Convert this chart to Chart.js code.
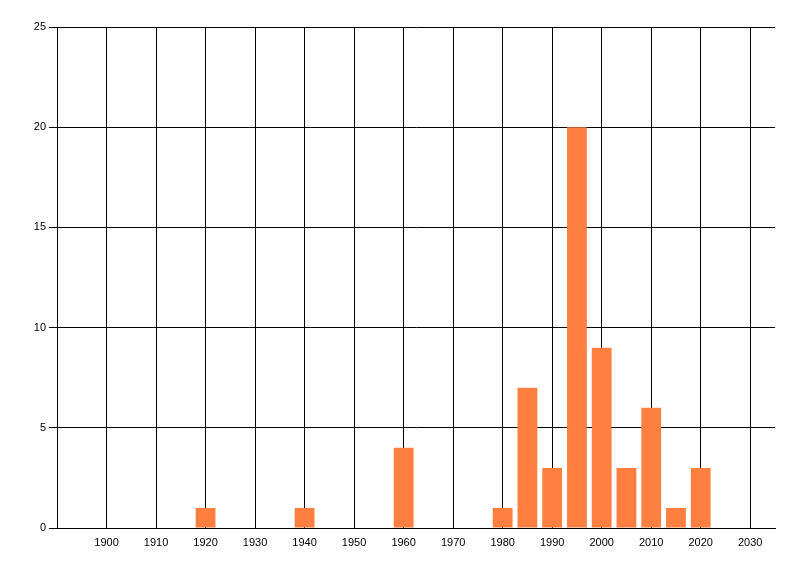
<!DOCTYPE html>
<html>
<head>
<meta charset="utf-8">
<script src="https://cdn.jsdelivr.net/npm/chart.js@4/dist/chart.umd.min.js"></script>
<style>
html,body{margin:0;padding:0;background:#fff;}
#wrap{width:800px;height:576px;}
</style>
</head>
<body>
<div id="wrap"><canvas id="c" width="800" height="576"></canvas></div>
<script>
const years = [1920, 1940, 1960, 1980, 1985, 1990, 1995, 2000, 2005, 2010, 2015, 2020];
const counts = [1, 1, 4, 1, 7, 3, 20, 9, 3, 6, 1, 3];
const xTicks = [1900, 1910, 1920, 1930, 1940, 1950, 1960, 1970, 1980, 1990, 2000, 2010, 2020, 2030];
const yTicks = [0, 5, 10, 15, 20, 25];

const points = years.map((y, i) => ({x: y, y: counts[i]}));
const font = {family: 'Liberation Sans', size: 11};

new Chart(document.getElementById('c'), {
  type: 'bar',
  data: {
    datasets: [{
      data: points,
      backgroundColor: '#ff7f40',
      borderWidth: 0,
      barPercentage: 0.8,
      categoryPercentage: 1.0
    }]
  },
  options: {
    responsive: false,
    animation: false,
    devicePixelRatio: 1,
    layout: {padding: {top: 27, right: 25, left: 0, bottom: 0}},
    plugins: {legend: {display: false}, tooltip: {enabled: false}},
    scales: {
      x: {
        type: 'linear',
        min: 1890,
        max: 2035,
        offset: false,
        afterBuildTicks: s => { s.ticks = xTicks.map(v => ({value: v})); },
        afterFit: s => { s.height = 48; },
        grid: {color: '#000', lineWidth: 1, drawTicks: false, offset: false},
        border: {color: '#000', width: 1},
        ticks: {color: '#000', font: font, padding: 8, maxRotation: 0, autoSkip: false,
                callback: v => String(v)}
      },
      y: {
        min: 0,
        max: 25,
        afterBuildTicks: s => { s.ticks = yTicks.map(v => ({value: v})); },
        afterFit: s => { s.width = 57; },
        grid: {color: '#000', lineWidth: 1, drawTicks: true, tickLength: 8},
        border: {color: '#000', width: 1},
        ticks: {color: '#000', font: font, padding: 3, callback: v => String(v)}
      }
    }
  }
});
</script>
</body>
</html>
